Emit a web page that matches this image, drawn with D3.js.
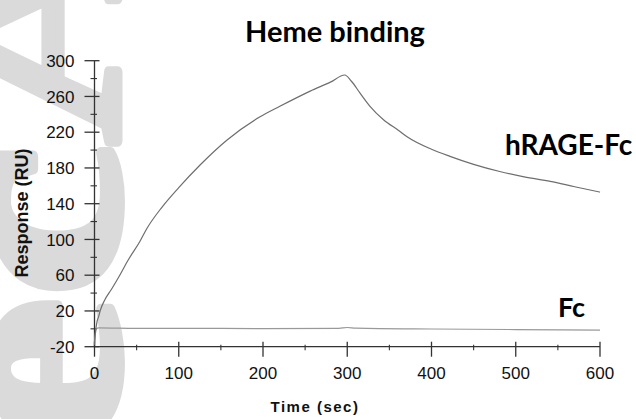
<!DOCTYPE html>
<html>
<head>
<meta charset="utf-8">
<script src="https://cdn.jsdelivr.net/npm/d3@7"></script>
<style>
  html, body { margin: 0; padding: 0; background: #fff; }
  svg { display: block; }
</style>
</head>
<body>
<svg id="chart" width="636" height="419"></svg>
<script>
// ---- data ----
const title = "Heme binding";
const xLabel = "Time (sec)";
const yLabel = "Response (RU)";
const xTicks = [0, 100, 200, 300, 400, 500, 600];
const yTicks = [-20, 20, 60, 100, 140, 180, 220, 260, 300];
const hrageTime  = [0, 1, 3, 5, 7, 12, 20, 30, 40, 54, 62, 80, 100, 125, 157, 196, 220, 256, 280, 297, 305, 315, 327, 343, 361, 371, 400, 422, 450, 481, 510, 541, 570, 600];
const hrageValue = [-18, -5, 8, 14, 21, 32, 44, 60, 77, 98, 112, 136, 158, 183, 211, 237, 249, 266, 276, 284, 277, 264, 249, 234, 222, 215, 201, 193, 184, 176, 170, 165, 159, 153];
const fcTime  = [0, 1, 2, 5, 50, 100, 200, 290, 300, 310, 400, 500, 600];
const fcValue = [-15, -6, 0, 1, 0.5, 0.5, 0.3, 0.5, 1.5, 0.8, -0.2, -0.8, -1.5];
const seriesLabels = ["hRAGE-Fc", "Fc"];
const watermark = "ecA";

const svg = d3.select("#chart");

// watermark (faint background letters)
svg.append("text")
  .attr("transform", "translate(118,450) rotate(-90) scale(1.3,1)")
  .attr("font-family", "Liberation Serif")
  .attr("font-weight", "bold")
  .attr("font-size", 265)
  .attr("fill", "#dadada")
  .attr("stroke", "#dadada")
  .attr("stroke-width", 9)
  .attr("stroke-linejoin", "round")
  .text(watermark);

const x = d3.scaleLinear().domain([0, 600]).range([94.5, 600]);
const y = d3.scaleLinear().domain([-20, 300]).range([346.7, 60.7]);

const axisColor = "#333";
const tickFont = "Liberation Sans, Arial, sans-serif";

// y axis
const yAxis = svg.append("g").attr("transform", `translate(${x(0)},0)`);
yAxis.append("line").attr("y1", y(-20)).attr("y2", y(300)).attr("stroke", axisColor).attr("stroke-width", 1.3);
yTicks.forEach(v => {
  yAxis.append("line").attr("x1", -10).attr("x2", 5).attr("y1", y(v)).attr("y2", y(v)).attr("stroke", axisColor).attr("stroke-width", 1.3);
  yAxis.append("text").attr("x", -20).attr("y", y(v)).attr("dy", "0.36em")
    .attr("text-anchor", "end").attr("font-family", tickFont).attr("font-size", 17).attr("fill", "#111").text(v);
});
d3.range(0, 300, 40).forEach(v => {
  yAxis.append("line").attr("x1", -4).attr("x2", 2.5).attr("y1", y(v)).attr("y2", y(v)).attr("stroke", axisColor).attr("stroke-width", 1.1);
});

// x axis
const xAxis = svg.append("g").attr("transform", `translate(0,${y(-20)})`);
xAxis.append("line").attr("x1", x(0)).attr("x2", x(600)).attr("stroke", axisColor).attr("stroke-width", 1.3);
xTicks.forEach(v => {
  xAxis.append("line").attr("x1", x(v)).attr("x2", x(v)).attr("y1", -5).attr("y2", 10).attr("stroke", axisColor).attr("stroke-width", 1.3);
  xAxis.append("text").attr("x", x(v)).attr("y", 32)
    .attr("text-anchor", "middle").attr("font-family", tickFont).attr("font-size", 17).attr("fill", "#111").text(v);
});
d3.range(50, 600, 100).forEach(v => {
  xAxis.append("line").attr("x1", x(v)).attr("x2", x(v)).attr("y1", -2).attr("y2", 3.5).attr("stroke", axisColor).attr("stroke-width", 1.1);
});

// axis titles
svg.append("text").attr("x", 315).attr("y", 412).attr("text-anchor", "middle")
  .attr("font-family", tickFont).attr("font-weight", "bold").attr("font-size", 15)
  .attr("letter-spacing", "1.5px").attr("fill", "#111").text(xLabel);
svg.append("text").attr("transform", "translate(28,213) rotate(-90)").attr("text-anchor", "middle")
  .attr("font-family", tickFont).attr("font-weight", "bold").attr("font-size", 18)
  .attr("fill", "#111").text(yLabel);

// title
svg.append("text").attr("x", 335).attr("y", 42).attr("text-anchor", "middle")
  .attr("font-family", "Lato, sans-serif").attr("font-weight", "bold").attr("font-size", 29)
  .attr("fill", "#000").text(title);

// lines
const line = d3.line().x(d => x(d[0])).y(d => y(d[1])).curve(d3.curveMonotoneX);
svg.append("path").datum(fcTime.map((t, i) => [t, fcValue[i]]))
  .attr("d", line).attr("fill", "none").attr("stroke", "#999").attr("stroke-width", 1.2);
svg.append("path").datum(hrageTime.map((t, i) => [t, hrageValue[i]]))
  .attr("d", line).attr("fill", "none").attr("stroke", "#6e6e6e").attr("stroke-width", 1.2);

// series labels
svg.append("text").attr("x", 505).attr("y", 155)
  .attr("font-family", "Lato, sans-serif").attr("font-weight", "bold").attr("font-size", 28)
  .attr("fill", "#000").text(seriesLabels[0]);
svg.append("text").attr("x", 558).attr("y", 317)
  .attr("font-family", "Lato, sans-serif").attr("font-weight", "bold").attr("font-size", 27)
  .attr("fill", "#000").text(seriesLabels[1]);
</script>
</body>
</html>
